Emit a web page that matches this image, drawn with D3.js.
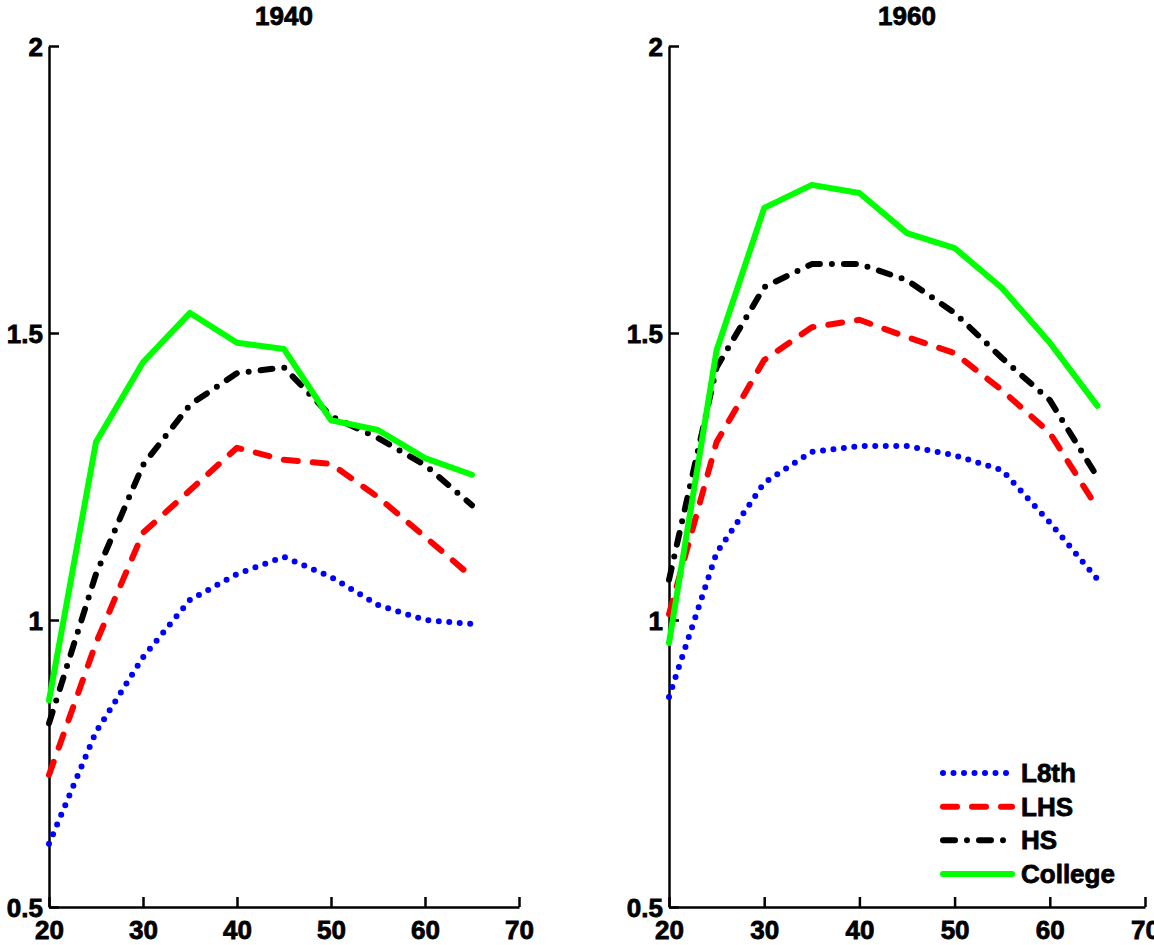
<!DOCTYPE html>
<html>
<head>
<meta charset="utf-8">
<script src="https://cdn.jsdelivr.net/npm/d3@7"></script>
<style>
  body { margin: 0; background: #fff; }
  text { font-family: "Liberation Sans", Arial, Helvetica, sans-serif; font-weight: 700; stroke: #000; stroke-width: 0.8px; }
</style>
</head>
<body>
<div id="chart"></div>
<script>
var ages = [20, 25, 30, 35, 40, 45, 50, 55, 60, 65]
var xTicks = [20, 30, 40, 50, 60, 70]
var yTicks = [0.5, 1, 1.5, 2]
var yTickLabels = ['0.5', '1', '1.5', '2']
var seriesNames = ['L8th', 'LHS', 'HS', 'College']

// 1940 panel
var l8th1940 = [0.61, 0.805, 0.935, 1.035, 1.08, 1.11, 1.075, 1.026, 1.0, 0.993]
var lhs1940 = [0.73, 0.96, 1.152, 1.226, 1.30, 1.279, 1.272, 1.214, 1.145, 1.075]
var hs1940 = [0.82, 1.08, 1.27, 1.375, 1.43, 1.44, 1.355, 1.317, 1.27, 1.20]
var college1940 = [0.86, 1.31, 1.449, 1.535, 1.483, 1.472, 1.348, 1.331, 1.282, 1.253]

// 1960 panel
var l8th1960 = [0.866, 1.117, 1.239, 1.293, 1.303, 1.303, 1.287, 1.261, 1.17, 1.071]
var lhs1960 = [1.01, 1.31, 1.453, 1.51, 1.523, 1.493, 1.465, 1.40, 1.326, 1.195]
var hs1960 = [1.07, 1.44, 1.58, 1.62, 1.62, 1.592, 1.535, 1.456, 1.383, 1.249]
var college1960 = [0.96, 1.47, 1.718, 1.758, 1.744, 1.674, 1.648, 1.578, 1.483, 1.373]

var width = 1154
var height = 945

var styles = {
  L8th:    { color: '#0000ff', dash: '0,10.5' },
  LHS:     { color: '#ff0000', dash: '14,15' },
  HS:      { color: '#000000', dash: '12,12,0,12' },
  College: { color: '#00ff00', dash: null }
}

var panels = [
  { title: '1940', x0: 49, x1: 519, data: [l8th1940, lhs1940, hs1940, college1940] },
  { title: '1960', x0: 669, x1: 1145, data: [l8th1960, lhs1960, hs1960, college1960] }
]

var svg = d3.select('#chart')
  .append('svg')
  .attr('width', width)
  .attr('height', height)

var y = d3.scaleLinear().domain([0.5, 2]).range([907, 46])

panels.forEach(p => {
  var x = d3.scaleLinear().domain([20, 70]).range([p.x0, p.x1])
  var g = svg.append('g')

  // axes: only left and bottom, ticks pointing inside
  var axisX = d3.axisBottom(x).tickValues(xTicks).tickSizeInner(-10).tickSizeOuter(0).tickPadding(32)
  var axisY = d3.axisLeft(y).tickValues(yTicks).tickSizeInner(-10).tickSizeOuter(0).tickPadding(6)
    .tickFormat((d, i) => yTickLabels[i])

  var gx = g.append('g').attr('transform', `translate(0,${y(0.5)})`).call(axisX)
  var gy = g.append('g').attr('transform', `translate(${p.x0},0)`).call(axisY)

  ;[gx, gy].forEach(a => {
    a.attr('font-size', null).attr('font-family', null)
    a.select('.domain').attr('stroke', '#000').attr('stroke-width', 2.5)
    a.selectAll('.tick line').attr('stroke', '#000').attr('stroke-width', 2.5)
    a.selectAll('.tick text').attr('fill', '#000')
      .attr('font-size', 26).attr('font-weight', 700)
  })
  gx.selectAll('.tick text').attr('dy', '0')
  gy.selectAll('.tick text').attr('dy', '0.38em')

  g.append('text')
    .attr('x', (p.x0 + p.x1) / 2)
    .attr('y', 25)
    .attr('text-anchor', 'middle')
    .attr('font-size', 26)
    .attr('font-weight', 700)
    .text(p.title)

  var line = d3.line()
    .x((d, i) => x(ages[i]))
    .y(d => y(d))

  p.data.forEach((vals, k) => {
    var s = styles[seriesNames[k]]
    g.append('path')
      .datum(vals)
      .attr('d', line)
      .attr('fill', 'none')
      .attr('stroke', s.color)
      .attr('stroke-width', 6)
      .attr('stroke-linecap', 'round')
      .attr('stroke-linejoin', 'round')
      .attr('stroke-dasharray', s.dash)
  })
})

// legend in the 1960 panel
var legendRows = d3.scaleLinear().domain([0, 3]).range([773, 874])
var legend = svg.append('g')
seriesNames.forEach((name, k) => {
  var s = styles[name]
  var ly = legendRows(k)
  legend.append('line')
    .attr('x1', 943).attr('x2', 1012)
    .attr('y1', ly).attr('y2', ly)
    .attr('stroke', s.color)
    .attr('stroke-width', 6)
    .attr('stroke-linecap', 'round')
    .attr('stroke-dasharray', s.dash)
  legend.append('text')
    .attr('x', 1021)
    .attr('y', ly)
    .attr('dy', '0.35em')
    .attr('font-size', 26)
    .attr('font-weight', 700)
    .text(name)
})
</script>
</body>
</html>
